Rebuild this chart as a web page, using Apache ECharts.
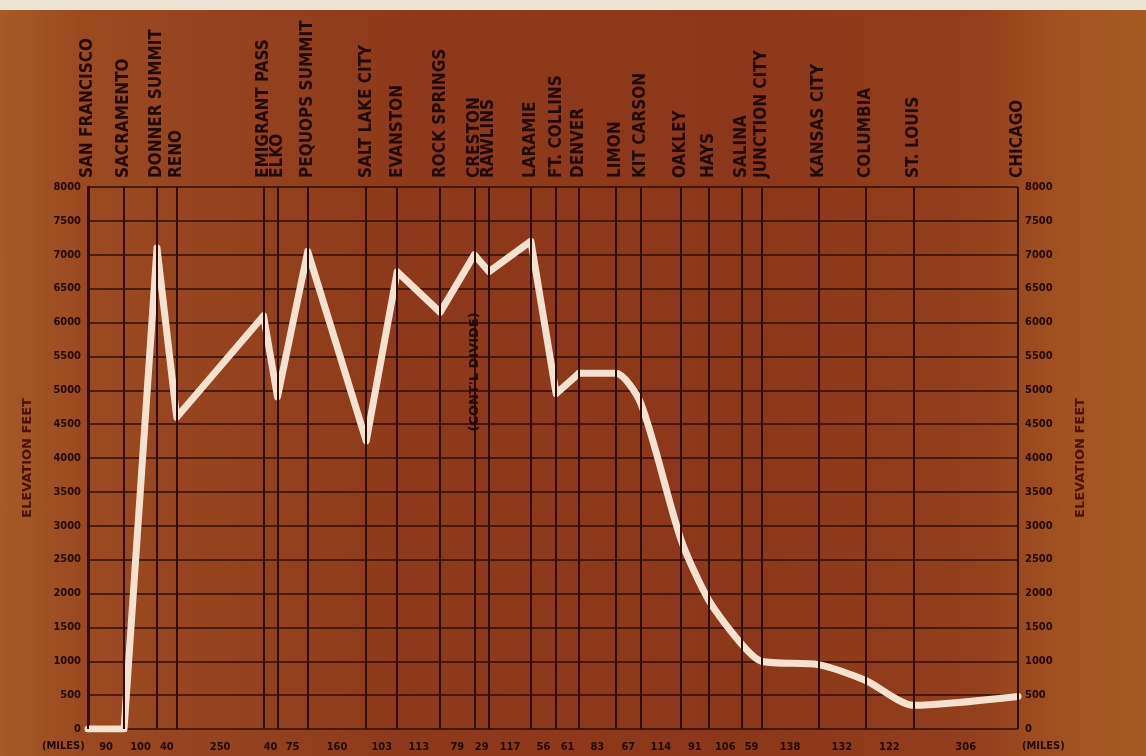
<!DOCTYPE html>
<html>
<head>
<meta charset="utf-8">
<script src="https://cdn.jsdelivr.net/npm/echarts@6/dist/echarts.min.js"></script>
<style>
  html, body {
    margin: 0;
    padding: 0;
  }
  .page {
    width: 1146px;
    height: 756px;
    position: relative;
    overflow: hidden;
    background: linear-gradient(90deg, #a65a24 0%, #9b4a20 7%, #8e3a1a 35%, #8c3719 65%, #933f1c 85%, #a2521f 93%, #a65a22 100%);
  }
  .strip {
    position: absolute;
    left: 0;
    top: 0;
    width: 100%;
    height: 10px;
    background: #ede3d2;
  }
  #profile {
    position: absolute;
    left: 0;
    top: 0;
    width: 1146px;
    height: 756px;
  }
</style>
</head>
<body>
<div class="page">
  <div class="strip"></div>
  <div id="profile"></div>
</div>
<script>
// stations along the route, west to east
var stations = [
  "SAN FRANCISCO", "SACRAMENTO", "DONNER SUMMIT", "RENO", "EMIGRANT PASS",
  "ELKO", "PEQUOPS SUMMIT", "SALT LAKE CITY", "EVANSTON", "ROCK SPRINGS",
  "CRESTON", "RAWLINS", "LARAMIE", "FT. COLLINS", "DENVER", "LIMON",
  "KIT CARSON", "OAKLEY", "HAYS", "SALINA", "JUNCTION CITY", "KANSAS CITY",
  "COLUMBIA", "ST. LOUIS", "CHICAGO"
];
// position along the route (chart scale, miles)
var stationMile = [
  0, 93, 178, 229, 453, 489, 567, 718, 798, 909, 997, 1035, 1143,
  1208, 1267, 1362, 1427, 1530, 1602, 1687, 1738, 1885, 2006, 2130, 2400
];
// elevation in feet
var elevation = [
  0, 0, 7100, 4600, 6100, 4900, 7050, 4250, 6750, 6150, 7000, 6750, 7200,
  4950, 5250, 5250, 4800, 2800, 1900, 1250, 1000, 950, 720, 350, 480
];
// miles printed between stations
var segmentMiles = [
  "90", "100", "40", "250", "40", "75", "160", "103", "113", "79", "29", "117",
  "56", "61", "83", "67", "114", "91", "106", "59", "138", "132", "122", "306"
];
var divideLabel = "(CONT'L DIVIDE)";
var divideStation = 10;
var divideElev = 5270;
var smoothFrom = 14; // denver onwards the line is drawn rounded

var ink = "#1f0a07";
var gridInk = "#2c0e08";
var lineCream = "#f2e2cf";

var segMid = [];
for (var i = 0; i < stationMile.length - 1; i++) {
  segMid.push((stationMile[i] + stationMile[i + 1]) / 2);
}

function nearestIndex(arr, v) {
  var best = 0;
  for (var k = 1; k < arr.length; k++) {
    if (Math.abs(arr[k] - v) < Math.abs(arr[best] - v)) best = k;
  }
  return best;
}

var westPart = [];
var eastPart = [];
stationMile.forEach(function (m, idx) {
  if (idx <= smoothFrom) westPart.push([m, elevation[idx]]);
  if (idx >= smoothFrom) eastPart.push([m, elevation[idx]]);
});

function plainNum(v) {
  return String(v);
}

var myChart = echarts.init(document.getElementById("profile"));
myChart.setOption({
  backgroundColor: "transparent",
  animation: false,
  textStyle: {
    fontFamily: "DejaVu Sans"
  },
  grid: {
    left: 88,
    right: 128,
    top: 187,
    bottom: 27
  },
  xAxis: [
    {
      type: "value",
      position: "bottom",
      min: 0,
      max: stationMile[stationMile.length - 1],
      axisLine: { show: false },
      axisTick: { show: false },
      splitLine: { show: false },
      axisLabel: {
        customValues: segMid,
        margin: 13,
        color: ink,
        fontSize: 11,
        fontWeight: "bold",
        fontFamily: "DejaVu Sans Condensed",
        formatter: function (v) {
          return segmentMiles[nearestIndex(segMid, v)];
        }
      }
    },
    {
      type: "value",
      position: "top",
      min: 0,
      max: stationMile[stationMile.length - 1],
      axisLine: { show: false },
      axisTick: { show: false },
      splitLine: { show: false },
      axisLabel: {
        customValues: stationMile,
        rotate: 90,
        margin: 9,
        color: ink,
        fontSize: 17,
        fontWeight: "bold",
        fontFamily: "DejaVu Sans Condensed",
        formatter: function (v) {
          return stations[nearestIndex(stationMile, v)];
        }
      }
    }
  ],
  yAxis: [
    {
      type: "value",
      position: "left",
      min: 0,
      max: 8000,
      interval: 500,
      name: "ELEVATION FEET",
      nameLocation: "middle",
      nameRotate: 90,
      nameGap: 54,
      nameTextStyle: {
        color: "#4a120c",
        fontSize: 13,
        fontWeight: "bold"
      },
      axisLine: {
        show: true,
        lineStyle: { color: gridInk, width: 2.5 }
      },
      axisTick: { show: false },
      axisLabel: {
        margin: 7,
        color: ink,
        fontSize: 11,
        fontWeight: "bold",
        fontFamily: "DejaVu Sans Condensed",
        formatter: plainNum
      },
      splitLine: {
        lineStyle: { color: gridInk, width: 1.6 }
      }
    },
    {
      type: "value",
      position: "right",
      min: 0,
      max: 8000,
      interval: 500,
      name: "ELEVATION FEET",
      nameLocation: "middle",
      nameRotate: 90,
      nameGap: 56,
      nameTextStyle: {
        color: "#4a120c",
        fontSize: 13,
        fontWeight: "bold"
      },
      axisLine: {
        show: true,
        lineStyle: { color: gridInk, width: 2.5 }
      },
      axisTick: { show: false },
      axisLabel: {
        margin: 7,
        color: ink,
        fontSize: 11,
        fontWeight: "bold",
        fontFamily: "DejaVu Sans Condensed",
        formatter: plainNum
      },
      splitLine: { show: false }
    }
  ],
  graphic: [
    {
      type: "text",
      left: 42,
      top: 741,
      style: { text: "(MILES)", fill: ink, fontSize: 11, fontWeight: "bold", fontFamily: "DejaVu Sans Condensed" }
    },
    {
      type: "text",
      left: 1022,
      top: 741,
      style: { text: "(MILES)", fill: ink, fontSize: 11, fontWeight: "bold", fontFamily: "DejaVu Sans Condensed" }
    }
  ],
  series: [
    {
      // station grid lines and the divide note
      type: "line",
      data: [],
      z: 1,
      silent: true,
      markLine: {
        silent: true,
        symbol: ["none", "none"],
        label: { show: false },
        lineStyle: { color: gridInk, width: 2, type: "solid" },
        data: stationMile.map(function (m) {
          return { xAxis: m };
        })
      },
      markPoint: {
        silent: true,
        symbol: "circle",
        symbolSize: 0,
        label: {
          show: true,
          position: "inside",
          rotate: 90,
          color: ink,
          fontSize: 13,
          fontWeight: "bold",
          formatter: divideLabel
        },
        data: [{ coord: [stationMile[divideStation], divideElev] }]
      }
    },
    {
      type: "line",
      data: westPart,
      z: 3,
      symbol: "none",
      lineStyle: { color: lineCream, width: 7, cap: "round", join: "round" }
    },
    {
      type: "line",
      data: eastPart,
      z: 3,
      smooth: 0.25,
      symbol: "none",
      lineStyle: { color: lineCream, width: 7, cap: "round", join: "round" }
    }
  ]
});
</script>
</body>
</html>
